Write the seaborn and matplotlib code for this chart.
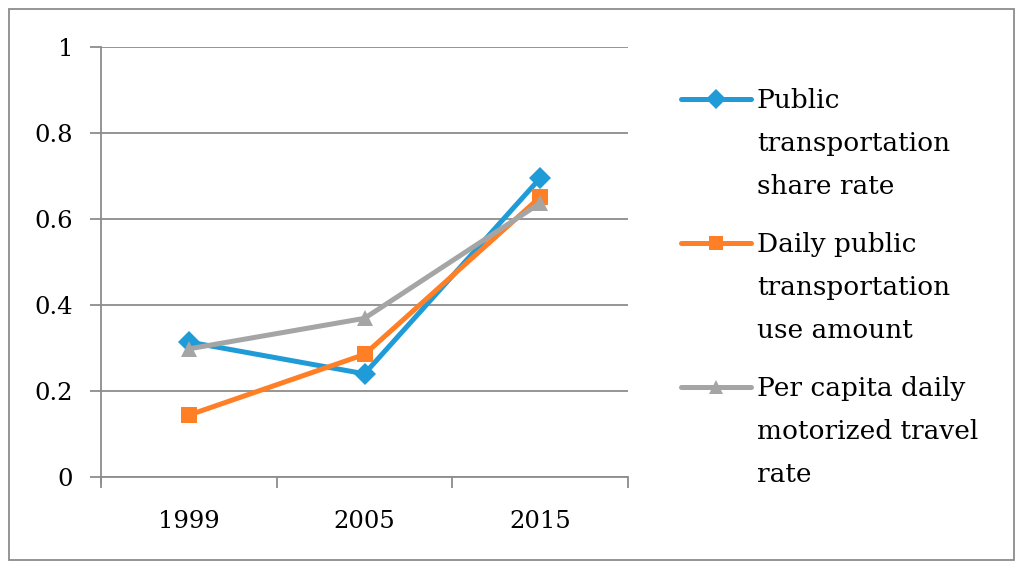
import matplotlib
matplotlib.use("Agg")
import matplotlib.pyplot as plt
import matplotlib.patches as mpatches
import pandas as pd
import seaborn as sns

years = ["1999", "2005", "2015"]
share_rate = [0.314, 0.240, 0.695]
daily_use = [0.144, 0.285, 0.651]
motorized_rate = [0.298, 0.369, 0.637]

series_names = [
    "Public\ntransportation\nshare rate",
    "Daily public\ntransportation\nuse amount",
    "Per capita daily\nmotorized travel\nrate",
]
colors = ["#1F9BD7", "#FF7F27", "#A5A5A5"]
markers = ["D", "s", "^"]

df = pd.DataFrame({
    "year": years * 3,
    "value": share_rate + daily_use + motorized_rate,
    "series": [n for n in series_names for _ in years],
})

sns.set_theme(style="white")
plt.rcParams["font.family"] = ["DejaVu Serif"]

fig = plt.figure(figsize=(10.24, 5.69), dpi=100)
ax = fig.add_axes([101 / 1024, 1 - 477 / 569, (628 - 101) / 1024, (477 - 47) / 569])

sns.lineplot(
    data=df, x="year", y="value", hue="series", style="series",
    palette=colors, markers=markers, dashes=False, linewidth=3.6,
    markersize=11, markeredgewidth=0, ax=ax, sort=False,
)

grid_c = "#8C8C8C"
ax.set_xlim(-0.5, 2.5)
ax.set_ylim(0, 1)
ax.set_yticks([0, 0.2, 0.4, 0.6, 0.8, 1.0])
ax.set_yticklabels(["0", "0.2", "0.4", "0.6", "0.8", "1"])
ax.yaxis.grid(True, color=grid_c, linewidth=1.3)
ax.set_axisbelow(True)
ax.set_xlabel("")
ax.set_ylabel("")
for side in ["top", "right"]:
    ax.spines[side].set_visible(False)
for side in ["left", "bottom"]:
    ax.spines[side].set_color(grid_c)
    ax.spines[side].set_linewidth(1.3)
ax.spines["left"].set_bounds(-0.015, 1)
ax.tick_params(axis="y", which="major", length=8, color=grid_c, width=1.3,
               labelsize=17.5, labelcolor="black", pad=12, left=True)
ax.tick_params(axis="x", which="major", length=0, labelsize=17.5,
               labelcolor="black", pad=24)
ax.set_xticks([-0.5, 0.5, 1.5, 2.5], minor=True)
ax.tick_params(axis="x", which="minor", length=8, color=grid_c, width=1.3, bottom=True)

handles, labels = ax.get_legend_handles_labels()
ax.get_legend().remove()
leg = fig.legend(
    handles, labels, loc="upper left", bbox_to_anchor=(657 / 1024, 1 - 64 / 569),
    frameon=False, fontsize=19, handlelength=2.65, handletextpad=0.23,
    handleheight=1.1, labelspacing=1.25, labelcolor="black",
)
for t in leg.get_texts():
    t.set_linespacing(1.9)
# put each legend handle beside the first line of its label
for col in leg._legend_handle_box.get_children():
    for row in col.get_children():
        row.align = "top"
for h in leg.legend_handles:
    h.set_markersize(10)

fig.patches.append(mpatches.Rectangle(
    (9 / 1024, 9 / 569), 1005 / 1024, 551 / 569, transform=fig.transFigure,
    fill=False, edgecolor="#8C8C8C", linewidth=1.3,
))

fig.savefig("out.png", dpi=100)
